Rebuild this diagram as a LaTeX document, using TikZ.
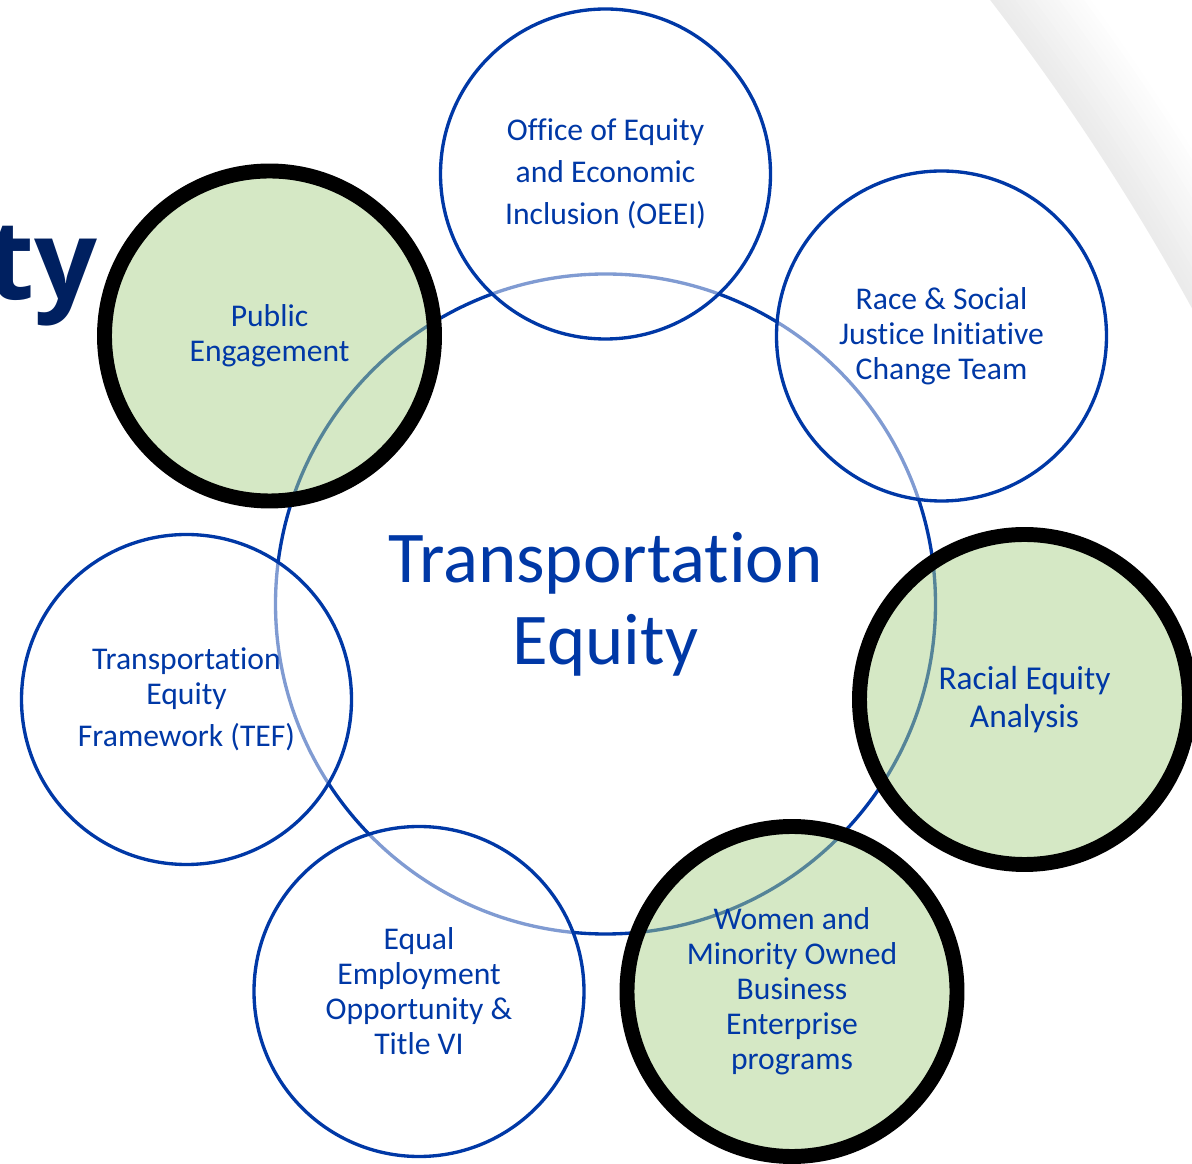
\documentclass[tikz,border=0pt]{standalone}
\usepackage{fontspec}
\setmainfont{Carlito}[Ligatures={NoCommon}]
\newfontfamily\titlefont{Open Sans}
\usepackage{tikz}
\definecolor{ttblue}{rgb}{0.,0.22,0.65}
\definecolor{ttnavy}{rgb}{0.,0.125,0.376}
\definecolor{ttgreen}{rgb}{0.67,0.82,0.55}

\begin{document}
\begin{tikzpicture}[line cap=round,line join=round,x=1.0cm,y=1.0cm,
hub/.style={circle,draw=ttblue,line width=1.9pt,minimum size=13.2cm,inner sep=0pt,text=ttblue,align=center,font=\fontsize{41.5}{46.5}\selectfont},
part/.style={circle,draw=ttblue,line width=1.9pt,fill=white,fill opacity=0.5,text opacity=1,minimum size=6.6cm,inner sep=0pt,text=ttblue,align=center,font=\fontsize{18}{19.9}\selectfont},
keypart/.style={part,draw=black,line width=8.5pt,fill=ttgreen}]
\useasboundingbox (0.,0.) rectangle (23.84,23.26);
\clip (0.,0.) rectangle (23.84,23.26);
% soft grey arc in the corner
\foreach \k in {0,...,15} {
\pgfmathsetmacro\g{8*(1-\k/16)}
\draw[line width=0.11cm,color=black!\g] (-17.84,-5.74) circle [radius=47.57+0.1*\k];
}
\node[anchor=base east,inner sep=0pt,text=ttnavy,font=\titlefont\bfseries\fontsize{63}{63}\selectfont] (title) at (1.95,17.26) {ty};
% middle circle
\node[hub] (te) at (12.11,11.18) {Transportation\\Equity};
% the seven around it
\node[part] (oeei) at (12.11,19.78) {Office of Equity\\[3.9pt]and Economic\\[3.9pt]Inclusion (OEEI)};
\node[part] (rsji) at (18.83,16.54) {Race \& Social\\Justice Initiative\\Change Team};
\node[keypart,font=\fontsize{19}{21.5}\selectfont] (rea) at (20.49,9.27) {Racial Equity\\Analysis};
\node[keypart] (wmbe) at (15.84,3.43) {Women and\\Minority Owned\\Business\\Enterprise\\programs};
\node[part] (eeo) at (8.38,3.43) {Equal\\Employment\\Opportunity \&\\Title VI};
\node[part] (tef) at (3.73,9.27) {Transportation\\Equity\\[3.9pt]Framework (TEF)};
\node[keypart] (pe) at (5.39,16.54) {Public\\Engagement};
\end{tikzpicture}
\end{document}
